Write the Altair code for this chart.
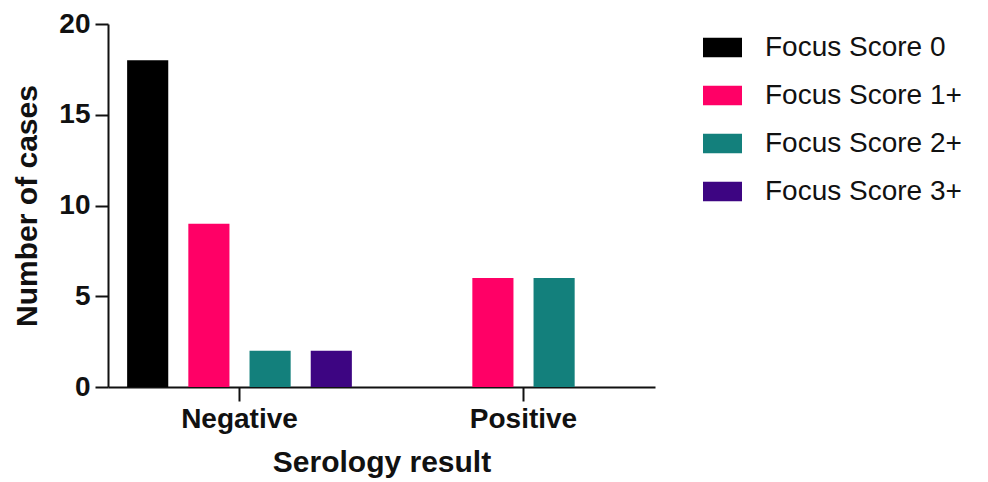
import altair as alt
import pandas as pd

results = ["Negative", "Positive"]
scores = ["Focus Score 0", "Focus Score 1+", "Focus Score 2+", "Focus Score 3+"]
negative_counts = [18, 9, 2, 2]
positive_counts = [0, 6, 6, 0]
colors = ["#000000", "#FF0066", "#13807C", "#3D0582"]

rows = []
for s, v in zip(scores, negative_counts):
    rows.append({"result": "Negative", "score": s, "count": v})
for s, v in zip(scores, positive_counts):
    rows.append({"result": "Positive", "score": s, "count": v})
df = pd.DataFrame(rows)

FONT = "Liberation Sans"

chart = alt.Chart(df).mark_bar().encode(
    x=alt.X("result:N", sort=results, title="Serology result",
            scale=alt.Scale(paddingInner=0.138, paddingOuter=0.032),
            axis=alt.Axis(labelAngle=0, labelFontSize=28, labelFontWeight="bold",
                          labelColor="#111", labelPadding=4,
                          titleFontSize=30, titleFontWeight="bold", titleColor="#111",
                          titlePadding=14, tickSize=14, tickWidth=2, tickColor="#111",
                          domainWidth=2, domainColor="#111")),
    xOffset=alt.XOffset("score:N", sort=scores,
                        scale=alt.Scale(paddingInner=0.328, paddingOuter=0.164)),
    y=alt.Y("count:Q", title="Number of cases",
            scale=alt.Scale(domain=[0, 20], nice=False),
            axis=alt.Axis(values=[0, 5, 10, 15, 20], grid=False,
                          labelFontSize=28, labelFontWeight="bold", labelColor="#111",
                          labelPadding=5,
                          titleFontSize=30, titleFontWeight="bold", titleColor="#111",
                          titlePadding=16, tickSize=13, tickWidth=2, tickColor="#111",
                          domainWidth=2, domainColor="#111")),
    color=alt.Color("score:N", sort=scores,
                    scale=alt.Scale(domain=scores, range=colors),
                    legend=alt.Legend(title=None, orient="none", legendX=595, legendY=4,
                                      symbolType="M-1,-0.5H1V0.5H-1Z", symbolSize=1521,
                                      symbolStrokeWidth=0, labelFontSize=28,
                                      labelColor="#111", labelOffset=23, rowPadding=14,
                                      labelLimit=400, labelFont=FONT)),
).properties(
    width=547, height=363,
    padding={"left": 100, "top": 16, "right": 325, "bottom": 94},
    autosize=alt.AutoSizeParams(type="none"),
).configure(font=FONT).configure_view(stroke=None).configure_axis(labelFont=FONT, titleFont=FONT)

chart.save("out.html", embed_options={"renderer": "svg", "actions": False})
